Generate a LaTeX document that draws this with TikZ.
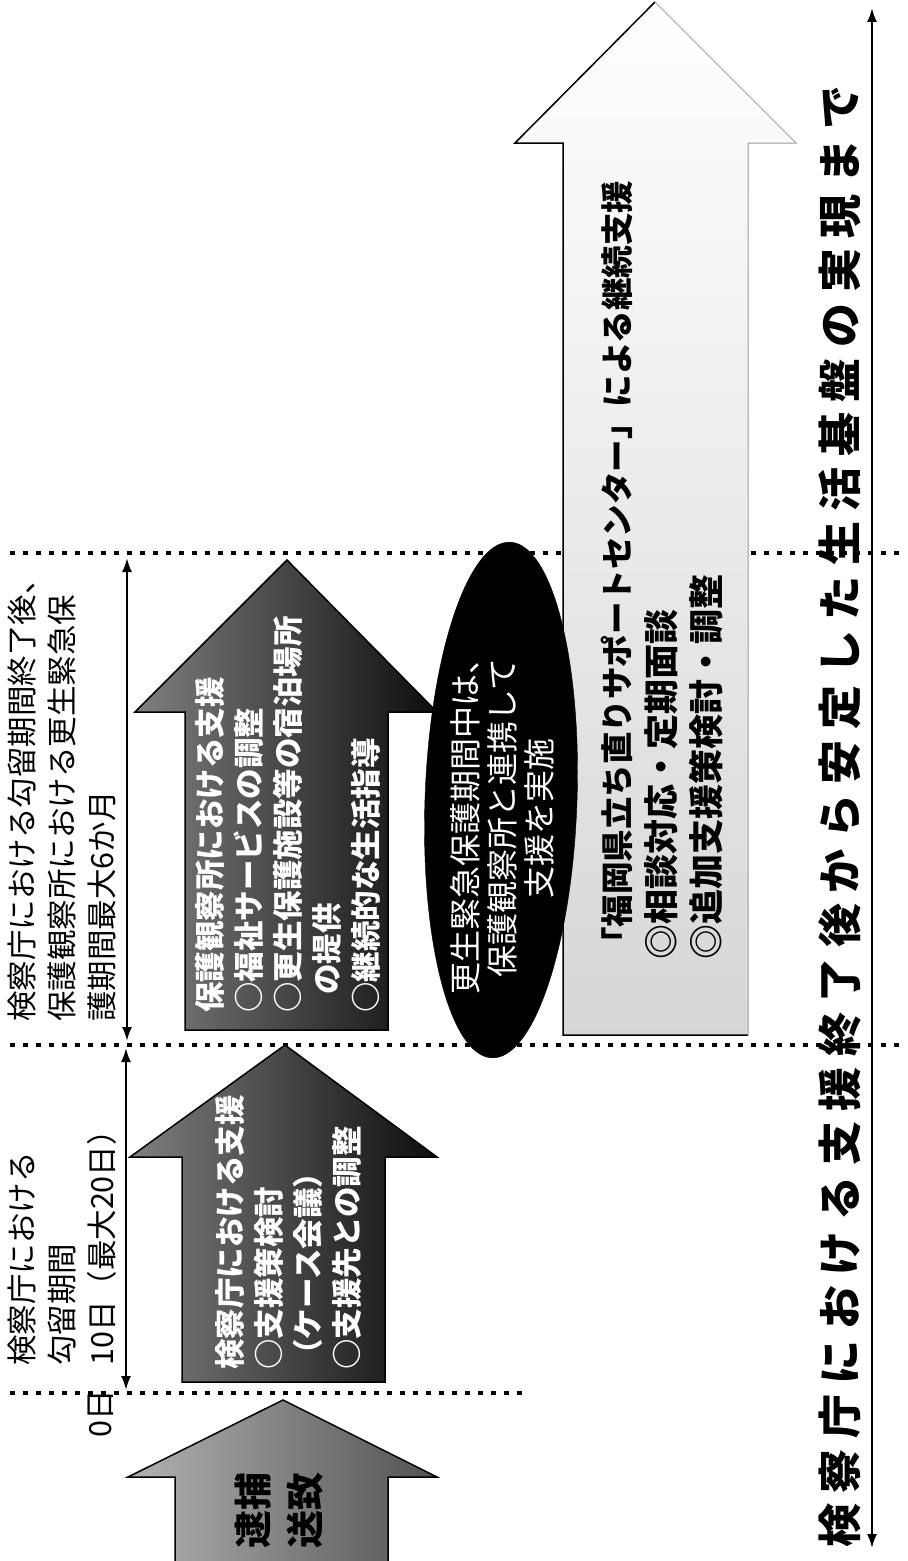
\documentclass[tikz,border=0pt]{standalone}
\usepackage{fontspec}
\setmainfont{Noto Sans CJK JP}
\newfontfamily\jpwide[LetterSpace=24]{Noto Sans CJK JP}
\usetikzlibrary{shapes.geometric,arrows.meta}
\begin{document}
\begin{tikzpicture}[x=1bp,y=-1bp,
  dotline/.style={line width=4.5bp, dash pattern=on 4.5bp off 8.5bp},
  dimarrow/.style={{Latex[length=14bp,width=10bp]}-{Latex[length=14bp,width=10bp]}, line width=2.2bp},
  lbl/.style={rotate=90, anchor=north west, align=left, inner sep=0pt, font=\fontsize{30.5bp}{40bp}\selectfont},
  arrtext/.style={rotate=90, anchor=north west, align=left, inner sep=0pt, text=white, font=\bfseries\fontsize{30.5bp}{39bp}\selectfont},
  darkarrow/.style={draw=black, line width=1.5bp, left color=black!50, right color=black!95},
  lightarrow/.style={draw=black, line width=1.5bp, left color=black!30, right color=black!68},
]
\useasboundingbox (0,0) rectangle (907,1561);
\clip (0,0) rectangle (907,1561);
\fill[white] (0,0) rectangle (907,1561);

% dotted separators
\coordinate (l1a) at (10,553);  \coordinate (l1b) at (907,553);
\coordinate (l2a) at (10,1045); \coordinate (l2b) at (907,1045);
\coordinate (l3a) at (10,1393); \coordinate (l3b) at (527,1393);
\draw[dotline] (l1a) -- (l1b);
\draw[dotline] (l2a) -- (l2b);
\draw[dotline] (l3a) -- (l3b);

% block arrows
\path[lightarrow] (175,1600) -- (175,1477) -- (128,1477) -- (283,1400) -- (437,1477) -- (388,1477) -- (388,1600) -- cycle;
\path[darkarrow] (182,1382) -- (182,1157) -- (130,1157) -- (285,1045) -- (437,1157) -- (385,1157) -- (385,1382) -- cycle;
\path[darkarrow] (185,1030) -- (185,712) -- (135,712) -- (287,560) -- (437,712) -- (388,712) -- (388,1030) -- cycle;

% big light arrow
\fill[top color=white, bottom color=black!16] (563,1035) -- (563,143) -- (515,143) -- (655,2) -- (796,143) -- (748,143) -- (748,1035) -- cycle;
\draw[line width=1.5bp] (748,1035) -- (563,1035) -- (563,143) -- (515,143) -- (655,2);
\draw[line width=1bp, black!35] (655,2) -- (796,143) -- (748,143) -- (748,1035);

% ellipse
\node[ellipse, fill=black, draw=black, minimum width=516bp, minimum height=152bp, rotate=88, inner sep=0pt] (ell) at (501,800) {};
\node[rotate=90, align=center, inner sep=0pt, text=white, font=\fontsize{32bp}{37bp}\selectfont] (elltext) at (502,818)
  {更生緊急保護期間中は、\\保護観察所と連携して\\支援を実施};

% arrow texts
\node[rotate=90, align=center, inner sep=0pt, font=\bfseries\fontsize{38bp}{52bp}\selectfont] (taiho) at (279,1510) {逮捕\\送致};
\node[arrtext] (kensatsu) at (215,1370)
  {検察庁における支援\\○支援策検討\\（ケース会議）\\○支援先との調整};
\node[arrtext] (hogo) at (195,1013)
  {保護観察所における支援\\○福祉サービスの調整\\○更生保護施設等の宿泊場所\\\hspace{0.6em}の提供\\○継続的な生活指導};
\node[rotate=90, anchor=north west, align=left, inner sep=0pt, font=\bfseries\fontsize{32.5bp}{45bp}\selectfont] (center) at (601,960)
  {「福岡県立ち直りサポートセンター」による継続支援\\{\fontsize{35bp}{45bp}\selectfont ◎相談対応・定期面談}\\{\fontsize{35bp}{45bp}\selectfont ◎追加支援策検討・調整}};

% left labels
\node[lbl] (lab1) at (8,1366) {検察庁における\\勾留期間\\10日（最大20日）};
\node[lbl] (lab0) at (88,1438) {0日};
\node[lbl] (lab2) at (8,1022) {検察庁における勾留期間終了後、\\保護観察所における更生緊急保\\護期間最大6か月};

% bottom right label
\node[rotate=90, anchor=west, inner sep=0pt, font=\jpwide\bfseries\fontsize{44bp}{44bp}\selectfont] (goal) at (840,1548)
  {検察庁における支援終了後から安定した生活基盤の実現まで};

% dimension arrows
\coordinate (a1s) at (126,1048); \coordinate (a1e) at (126,1390);
\coordinate (a2s) at (127,558);  \coordinate (a2e) at (127,1041);
\coordinate (a3s) at (872,8);    \coordinate (a3e) at (872,1548);
\draw[dimarrow] (a1s) -- (a1e);
\draw[dimarrow] (a2s) -- (a2e);
\draw[dimarrow] (a3s) -- (a3e);
\end{tikzpicture}
\end{document}
